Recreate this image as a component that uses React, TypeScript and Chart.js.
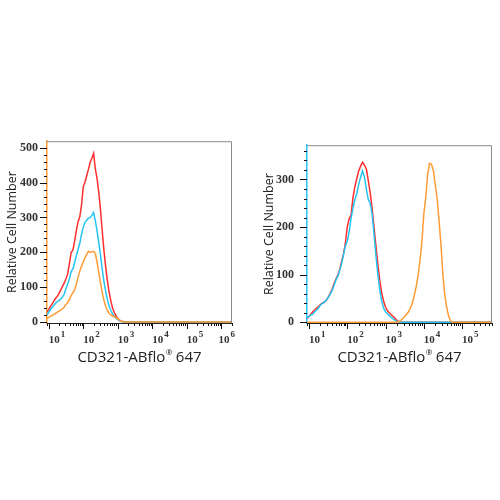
import React, { useEffect, useRef } from "react";
import { Chart, registerables } from "chart.js";

Chart.register(...registerables);

// ---------------- data (log10 of intensity, relative cell counts) ----------------
const leftDecades = [
  0.95, 1.0, 1.05, 1.1, 1.15, 1.2, 1.25, 1.3, 1.35, 1.4, 1.45, 1.5, 1.55, 1.6, 1.65, 1.7,
  1.75, 1.8, 1.85, 1.9, 1.95, 2.0, 2.05, 2.1, 2.15, 2.2, 2.25, 2.3, 2.35, 2.4, 2.45, 2.5,
  2.55, 2.6, 2.65, 2.7, 2.75, 2.8, 2.85, 2.9, 2.95, 3.0, 3.05, 3.1, 3.15, 3.2, 6.31,
];
const leftRed = [
  28, 36, 45, 52, 60, 68, 74, 82, 92, 102, 112, 124, 138, 168, 200, 206,
  232, 262, 288, 302, 335, 388, 402, 420, 438, 458, 470, 484, 440, 412, 372, 322,
  262, 205, 158, 118, 86, 60, 40, 27, 17, 10, 5, 2, 1, 0, 0,
];
const leftCyan = [
  20, 28, 35, 42, 48, 54, 58, 62, 66, 72, 80, 96, 110, 124, 145, 152,
  170, 190, 208, 226, 252, 272, 286, 292, 298, 300, 306, 314, 290, 262, 228, 192,
  152, 116, 88, 64, 46, 33, 23, 16, 11, 7, 3, 1, 0, 0, 0,
];
const leftOrange = [
  10, 13, 16, 19, 22, 25, 28, 31, 34, 38, 43, 50, 56, 64, 76, 84,
  92, 108, 128, 146, 160, 172, 184, 194, 203, 200, 202, 203, 196, 172, 142, 112,
  85, 62, 45, 33, 25, 20, 17, 15, 13, 9, 5, 2, 1, 0, 0,
];

const rightDecades = [
  0.95, 1.0, 1.05, 1.1, 1.15, 1.2, 1.25, 1.3, 1.35, 1.4, 1.45, 1.5, 1.55, 1.6, 1.65, 1.7,
  1.75, 1.8, 1.85, 1.9, 1.95, 2.0, 2.05, 2.1, 2.15, 2.2, 2.25, 2.3, 2.35, 2.4, 2.45, 2.5,
  2.55, 2.6, 2.65, 2.7, 2.75, 2.8, 2.85, 2.9, 2.95, 3.0, 3.05, 3.1, 3.15, 3.2, 3.25, 3.3,
  3.35, 3.4, 5.78,
];
const rightRed = [
  8, 12, 17, 22, 26, 30, 33, 37, 40, 42, 46, 52, 60, 68, 80, 90,
  98, 110, 126, 142, 165, 200, 218, 225, 262, 285, 302, 318, 328, 336, 330, 322,
  298, 272, 240, 200, 160, 122, 88, 62, 44, 32, 24, 20, 16, 12, 8, 4,
  1, 0, 0,
];
const rightCyan = [
  10, 12, 15, 17, 22, 26, 30, 36, 40, 42, 46, 52, 58, 66, 76, 88,
  96, 108, 122, 140, 160, 170, 190, 218, 240, 258, 270, 290, 305, 318, 305, 280,
  258, 250, 228, 185, 140, 100, 68, 44, 30, 22, 18, 14, 10, 7, 4, 2,
  0, 0, 0,
];
const rightOrangeDecades = [
  0.95, 3.3, 3.35, 3.4, 3.45, 3.5, 3.55, 3.6, 3.65, 3.7, 3.75, 3.8, 3.85, 3.9, 3.95, 4.0,
  4.05, 4.1, 4.15, 4.2, 4.25, 4.3, 4.35, 4.4, 4.45, 4.5, 4.55, 4.6, 4.65, 4.7, 4.75, 5.78,
];
const rightOrange = [
  0, 0, 1, 4, 8, 12, 17, 22, 30, 40, 56, 75, 98, 130, 170, 228,
  262, 310, 334, 332, 318, 288, 258, 212, 160, 98, 55, 30, 12, 3, 0, 0,
];

const leftXTickExponents = [1, 2, 3, 4, 5, 6];
const rightXTickExponents = [1, 2, 3, 4, 5];
const leftYTicks = [0, 100, 200, 300, 400, 500];
const rightYTicks = [0, 100, 200, 300];

const xTitleMain = "CD321-ABflo";
const xTitleMark = "®";
const xTitleSuffix = " 647";
const yTitle = "Relative Cell Number";

// ---------------- styles ----------------
const RED = "#ff2e2e";
const CYAN = "#22c4f2";
const ORANGE = "#ff9b34";
const SERIF = '"Liberation Serif", "DejaVu Serif", serif';
const SANS = '"Open Sans", "Noto Sans", sans-serif';

function toPoints(dec: number[], vals: number[]) {
  return dec.map((d, i) => ({ x: Math.pow(10, d), y: vals[i] }));
}

const decorPlugin = {
  id: "decor",
  afterDraw(chart: any, _args: any, opts: any) {
    const { ctx, chartArea: a } = chart;
    const x = chart.scales.x;
    const y = chart.scales.y;
    ctx.save();
    // frame top and right
    ctx.strokeStyle = "#8a8a8a";
    ctx.lineWidth = 1;
    ctx.beginPath();
    ctx.moveTo(a.left, a.top + 0.5);
    ctx.lineTo(a.right - 0.5, a.top + 0.5);
    ctx.lineTo(a.right - 0.5, a.bottom);
    ctx.stroke();

    // x ticks (log, major + minor)
    ctx.strokeStyle = "#111";
    const lo = Math.floor(Math.log10(x.min));
    const hi = Math.ceil(Math.log10(x.max));
    for (let k = lo; k <= hi; k++) {
      for (let m = 1; m < 10; m++) {
        const v = m * Math.pow(10, k);
        if (v < x.min || v > x.max) continue;
        const px = Math.round(x.getPixelForValue(v)) + 0.5;
        ctx.beginPath();
        ctx.moveTo(px, a.bottom);
        ctx.lineTo(px, a.bottom + (m === 1 ? 6 : 3));
        ctx.stroke();
      }
    }
    // x labels 10^k
    ctx.fillStyle = "#333";
    ctx.textAlign = "left";
    ctx.textBaseline = "alphabetic";
    for (const e of opts.exponents as number[]) {
      const px = x.getPixelForValue(Math.pow(10, e));
      ctx.font = `bold 11px ${SERIF}`;
      const w1 = ctx.measureText("10").width;
      ctx.font = `bold 9px ${SERIF}`;
      const w2 = ctx.measureText(String(e)).width;
      let sx = px;
      const maxRight = a.right + 3;
      if (sx + w1 + 1 + w2 > maxRight) sx = maxRight - w1 - 1 - w2;
      ctx.font = `bold 11px ${SERIF}`;
      ctx.fillText("10", sx, a.bottom + 20);
      ctx.font = `bold 9px ${SERIF}`;
      ctx.fillText(String(e), sx + w1 + 1, a.bottom + 14);
    }

    // y ticks (major every 100, minor every 20)
    ctx.strokeStyle = "#111";
    for (let v = 0; v <= y.max; v += 20) {
      const py = Math.round(y.getPixelForValue(v)) + 0.5;
      const len = v % 100 === 0 ? 7 : 3;
      ctx.beginPath();
      ctx.moveTo(a.left - len, py);
      ctx.lineTo(a.left, py);
      ctx.stroke();
    }

    // x title with superscript mark
    const cx = (a.left + a.right) / 2;
    const by = a.bottom + 39;
    const big = `15px ${SANS}`;
    const small = `8px ${SANS}`;
    ctx.font = big;
    const t1 = ctx.measureText(xTitleMain).width;
    const t3 = ctx.measureText(xTitleSuffix).width;
    ctx.font = small;
    const t2 = ctx.measureText(xTitleMark).width;
    const x0 = cx - (t1 + t2 + t3) / 2;
    ctx.fillStyle = "#222";
    ctx.font = big;
    ctx.fillText(xTitleMain, x0, by);
    ctx.font = small;
    ctx.fillText(xTitleMark, x0 + t1 + 0.5, by - 7);
    ctx.font = big;
    ctx.fillText(xTitleSuffix, x0 + t1 + t2, by);
    ctx.restore();
  },
};

type PanelCfg = {
  left: number;
  yWidth: number;
  padRight: number;
  xMinExp: number;
  xMaxExp: number;
  yMin: number;
  yMax: number;
  yTicks: number[];
  yBorder: string;
  yTitlePad: number;
  labelPad: number;
  exponents: number[];
  datasets: { data: { x: number; y: number }[]; color: string }[];
};

function Panel({ cfg }: { cfg: PanelCfg }) {
  const ref = useRef<HTMLCanvasElement>(null);
  useEffect(() => {
    if (!ref.current) return;
    const chart = new Chart(ref.current, {
      type: "line",
      data: {
        datasets: cfg.datasets.map((d) => ({
          data: d.data,
          borderColor: d.color,
          backgroundColor: d.color,
          borderWidth: 1.5,
          pointRadius: 0,
          tension: 0,
          fill: false,
        })),
      },
      plugins: [decorPlugin],
      options: {
        responsive: false,
        animation: false,
        devicePixelRatio: 1,
        parsing: false,
        layout: { padding: { top: 13, right: cfg.padRight, left: 0, bottom: 0 } },
        plugins: {
          legend: { display: false },
          tooltip: { enabled: false },
          decor: { exponents: cfg.exponents },
        } as any,
        scales: {
          x: {
            type: "logarithmic",
            min: Math.pow(10, cfg.xMinExp),
            max: Math.pow(10, cfg.xMaxExp),
            grid: { display: false, drawTicks: false },
            border: { display: true, color: "#222", width: 1 },
            ticks: { display: false },
            afterFit: (s: any) => {
              s.height = 52;
            },
          },
          y: {
            type: "linear",
            min: cfg.yMin,
            max: cfg.yMax,
            grid: { display: false, drawTicks: false },
            border: { display: true, color: cfg.yBorder, width: 1.5 },
            afterBuildTicks: (s: any) => {
              s.ticks = cfg.yTicks.map((v) => ({ value: v }));
            },
            ticks: {
              padding: cfg.labelPad,
              color: "#333",
              font: { family: SERIF, size: 12, weight: "bold" },
            },
            title: {
              display: true,
              text: yTitle,
              color: "#222",
              font: { family: SANS, size: 12.5 },
              padding: { top: cfg.yTitlePad, bottom: 0 },
            },
            afterFit: (s: any) => {
              s.width = cfg.yWidth;
            },
          },
        } as any,
      },
    } as any);
    return () => chart.destroy();
  }, [cfg]);
  return (
    <canvas
      ref={ref}
      width={250}
      height={250}
      style={{ position: "absolute", left: cfg.left, top: 125, width: 250, height: 250 }}
    />
  );
}

const leftCfg: PanelCfg = {
  left: 0,
  yWidth: 47,
  padRight: 18,
  xMinExp: 0.95,
  xMaxExp: 6.31,
  yMin: -3,
  yMax: 519,
  yTicks: leftYTicks,
  yBorder: ORANGE,
  yTitlePad: 5,
  labelPad: 9,
  exponents: leftXTickExponents,
  datasets: [
    { data: toPoints(leftDecades, leftOrange), color: ORANGE },
    { data: toPoints(leftDecades, leftCyan), color: CYAN },
    { data: toPoints(leftDecades, leftRed), color: RED },
  ],
};

const rightCfg: PanelCfg = {
  left: 250,
  yWidth: 57,
  padRight: 8,
  xMinExp: 0.95,
  xMaxExp: 5.78,
  yMin: -1.5,
  yMax: 372,
  yTicks: rightYTicks,
  yBorder: CYAN,
  yTitlePad: 12,
  labelPad: 13,
  exponents: rightXTickExponents,
  datasets: [
    { data: toPoints(rightOrangeDecades, rightOrange), color: ORANGE },
    { data: toPoints(rightDecades, rightCyan), color: CYAN },
    { data: toPoints(rightDecades, rightRed), color: RED },
  ],
};

export default function App() {
  return (
    <div
      style={{
        position: "fixed",
        left: 0,
        top: 0,
        width: 500,
        height: 500,
        background: "#fff",
        overflow: "hidden",
      }}
    >
      <Panel cfg={leftCfg} />
      <Panel cfg={rightCfg} />
    </div>
  );
}
